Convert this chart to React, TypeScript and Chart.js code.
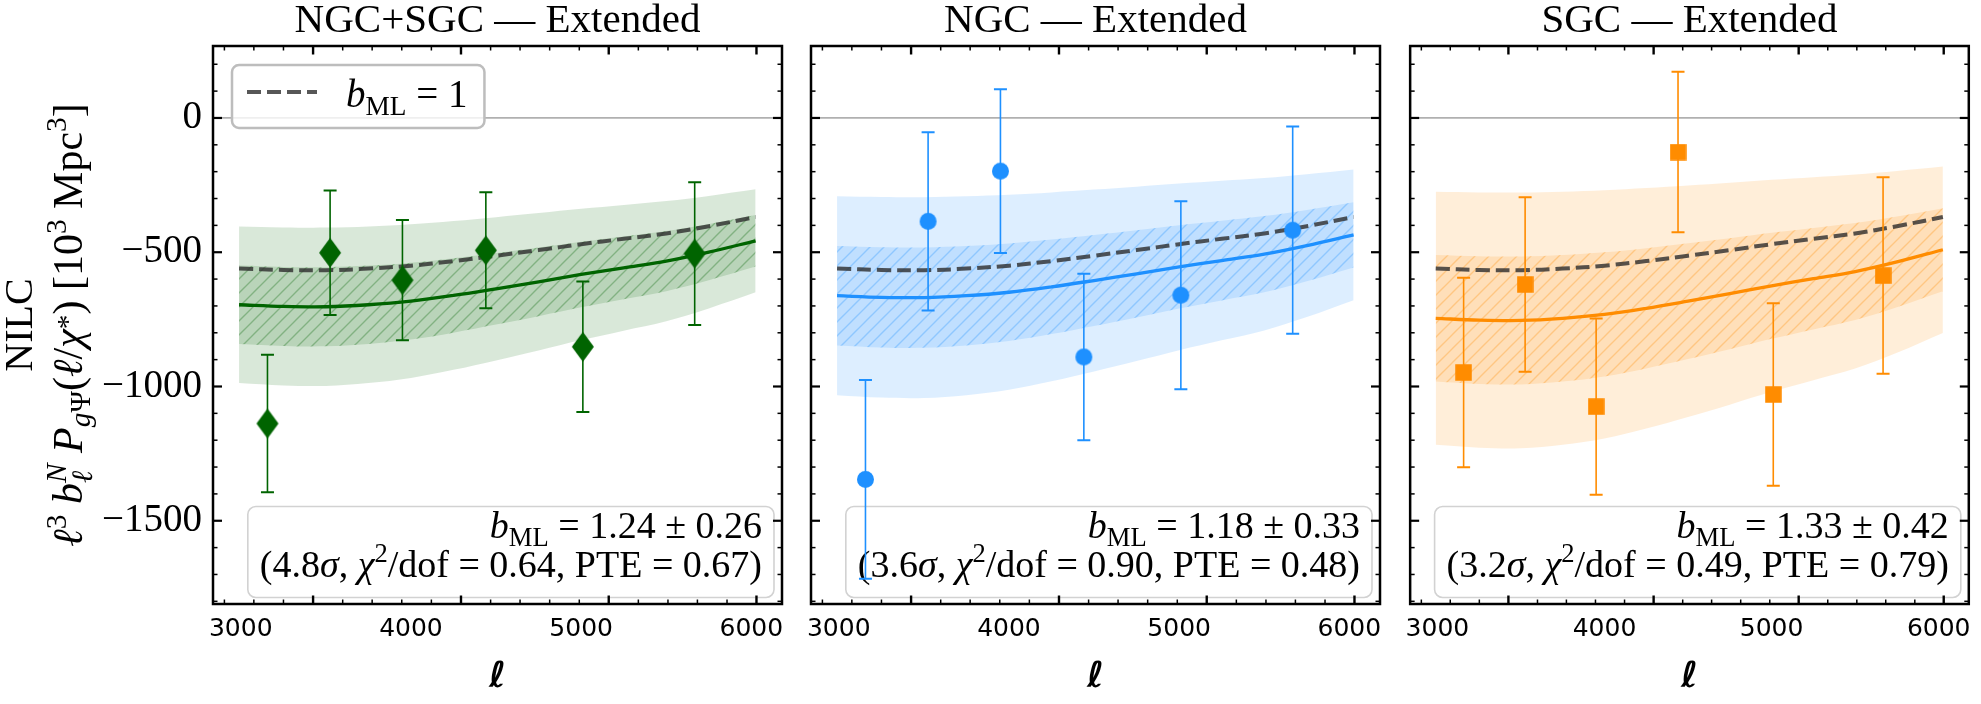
import React, { useEffect, useRef } from 'react';
import { Chart, registerables } from 'chart.js';

Chart.register(...registerables);

// ---------------- data ----------------
const ellModel = [2990, 3250, 3500, 3750, 4000, 4250, 4500, 4750, 5000, 5250, 5500, 5750, 6025];
const templateB1 = [-561, -566, -567, -561, -550, -533, -513, -492, -470, -450, -430, -403, -369];
const ellBins = [3157, 3525, 3950, 4440, 5010, 5667];

const combinedVals = [-1138, -502, -604, -493, -852, -505];
const combinedErrs = [256, 232, 224, 216, 243, 266];
const ngcVals = [-1346, -385, -198, -890, -660, -418];
const ngcErrs = [370, 332, 305, 310, 350, 386];
const sgcVals = [-948, -620, -1075, -127, -1030, -587];
const sgcErrs = [353, 325, 328, 299, 340, 366];

const panelTitles = ['NGC+SGC \u2014 Extended', 'NGC \u2014 Extended', 'SGC \u2014 Extended'];
const bFit = [1.24, 1.18, 1.33];
const bFitErr = [0.26, 0.33, 0.42];
const detSig = ['4.8', '3.6', '3.2'];
const chi2Dof = ['0.64', '0.90', '0.49'];
const pteVals = ['0.67', '0.48', '0.79'];

const xTickValues = [3000, 4000, 5000, 6000];
const yTickValues = [0, -500, -1000, -1500];
const xMajorMarks = [3425, 4294, 5162, 6030];
const xMinorMarks = [2904, 3077, 3251, 3599, 3772, 3946, 4120, 4468, 4641, 4815, 4989, 5336, 5510, 5683, 5857];
const X_MIN = 2837;
const X_MAX = 6180;
const Y_MIN = -1810;
const Y_MAX = 268;

// ---------------- styling ----------------
const SERIF = '"Liberation Serif", "Times New Roman", serif';
const SANS = '"DejaVu Sans", sans-serif';
const panelRGB: number[][] = [
  [0, 100, 0],
  [30, 144, 255],
  [255, 140, 0],
];
const markerKinds = ['diamond', 'circle', 'square'];
const panelBoxes = [
  { left: 0, width: 795, padL: 0, padR: 13 },
  { left: 795, width: 600, padL: 16, padR: 15 },
  { left: 1395, width: 586, padL: 14, padR: 4 },
];
const DASH_COLOR = 'rgba(45,45,45,0.8)';

type Seg = { t: string; it?: boolean; sc?: number; dy?: number; up?: Seg; dn?: Seg };

function fontOf(base: number, s: Seg) {
  return `${s.it ? 'italic ' : ''}${(base * (s.sc ?? 1)).toFixed(2)}px ${SERIF}`;
}
function segWidth(ctx: CanvasRenderingContext2D, base: number, s: Seg): number {
  if (s.up || s.dn) {
    let w = 0;
    for (const q of [s.up, s.dn]) {
      if (q) {
        ctx.font = fontOf(base, q);
        w = Math.max(w, ctx.measureText(q.t).width);
      }
    }
    return w;
  }
  ctx.font = fontOf(base, s);
  return ctx.measureText(s.t).width;
}
function richWidth(ctx: CanvasRenderingContext2D, segs: Seg[], base: number) {
  return segs.reduce((acc, s) => acc + segWidth(ctx, base, s), 0);
}
function drawRich(
  ctx: CanvasRenderingContext2D,
  segs: Seg[],
  x: number,
  y: number,
  base: number,
  align: 'left' | 'right' | 'center',
  color = '#000'
) {
  const total = richWidth(ctx, segs, base);
  let cx = align === 'left' ? x : align === 'right' ? x - total : x - total / 2;
  ctx.fillStyle = color;
  ctx.textBaseline = 'alphabetic';
  ctx.textAlign = 'left';
  for (const s of segs) {
    const w = segWidth(ctx, base, s);
    const parts = s.up || s.dn ? ([s.up, s.dn].filter(Boolean) as Seg[]) : [s];
    for (const q of parts) {
      ctx.font = fontOf(base, q);
      ctx.fillText(q.t, cx, y + (q.dy ?? 0) * base);
    }
    cx += w;
  }
  return total;
}

function roundRect(ctx: CanvasRenderingContext2D, x: number, y: number, w: number, h: number, r: number) {
  ctx.beginPath();
  ctx.moveTo(x + r, y);
  ctx.lineTo(x + w - r, y);
  ctx.arcTo(x + w, y, x + w, y + r, r);
  ctx.lineTo(x + w, y + h - r);
  ctx.arcTo(x + w, y + h, x + w - r, y + h, r);
  ctx.lineTo(x + r, y + h);
  ctx.arcTo(x, y + h, x, y + h - r, r);
  ctx.lineTo(x, y + r);
  ctx.arcTo(x, y, x + r, y, r);
  ctx.closePath();
}

function makeHatch(fill: string, line: string) {
  const c = document.createElement('canvas');
  const n = 14;
  c.width = n;
  c.height = n;
  const g = c.getContext('2d')!;
  g.fillStyle = fill;
  g.fillRect(0, 0, n, n);
  g.strokeStyle = line;
  g.lineWidth = 1.4;
  g.beginPath();
  g.moveTo(-1, n + 1);
  g.lineTo(n + 1, -1);
  g.moveTo(-1, 1);
  g.lineTo(1, -1);
  g.moveTo(n - 1, n + 1);
  g.lineTo(n + 1, n - 1);
  g.stroke();
  return g.createPattern(c, 'repeat')!;
}

function makeMarker(kind: string, color: string) {
  const c = document.createElement('canvas');
  const g = c.getContext('2d')!;
  if (kind === 'diamond') {
    c.width = 24;
    c.height = 32;
    g.fillStyle = color;
    g.beginPath();
    g.moveTo(12, 1);
    g.lineTo(23, 16);
    g.lineTo(12, 31);
    g.lineTo(1, 16);
    g.closePath();
    g.fill();
  } else if (kind === 'circle') {
    c.width = 19;
    c.height = 19;
    g.fillStyle = color;
    g.beginPath();
    g.arc(9.5, 9.5, 8.5, 0, Math.PI * 2);
    g.fill();
  } else {
    c.width = 17;
    c.height = 17;
    g.fillStyle = color;
    g.fillRect(0.25, 0.25, 16.5, 16.5);
  }
  return c;
}

function buildConfig(idx: number): any {
  const [r, g, b] = panelRGB[idx];
  const col = `rgb(${r},${g},${b})`;
  const rgba = (a: number) => `rgba(${r},${g},${b},${a})`;
  const bb = bFit[idx];
  const sg = bFitErr[idx];
  const vals = [combinedVals, ngcVals, sgcVals][idx];
  const errs = [combinedErrs, ngcErrs, sgcErrs][idx];
  const curve = (f: number) => ellModel.map((l, i) => ({ x: l, y: templateB1[i] * f }));
  const hatch = makeHatch(rgba(0.15), rgba(0.3));
  const marker = makeMarker(markerKinds[idx], col);
  const box = panelBoxes[idx];
  const T = 0.35;

  const bandCommon = { borderColor: 'transparent', borderWidth: 0, pointRadius: 0, tension: T };

  const datasets: any[] = [
    { label: 'outerHi', data: curve(bb - 2 * sg), fill: '+1', backgroundColor: rgba(0.15), order: 10, ...bandCommon },
    { label: 'outerLo', data: curve(bb + 2 * sg), fill: false, order: 10, ...bandCommon },
    { label: 'innerHi', data: curve(bb - sg), fill: '+1', backgroundColor: hatch, order: 9, ...bandCommon },
    { label: 'innerLo', data: curve(bb + sg), fill: false, order: 9, ...bandCommon },
    { label: 'model', data: curve(bb), borderColor: col, borderWidth: 3.3, pointRadius: 0, tension: T, fill: false, order: 4 },
    {
      label: 'b1',
      data: curve(1),
      borderColor: DASH_COLOR,
      borderDash: [14, 6],
      borderWidth: 4,
      pointRadius: 0,
      tension: T,
      fill: false,
      order: 3,
    },
    {
      label: 'data',
      data: ellBins.map((l, i) => ({ x: l, y: vals[i] })),
      showLine: false,
      pointStyle: marker,
      pointRadius: 10,
      borderWidth: 0,
      backgroundColor: col,
      order: 1,
    },
  ];

  const decor = {
    id: 'decor' + idx,
    beforeDatasetsDraw(chart: any) {
      const { ctx, chartArea: a, scales } = chart;
      const ys = scales.y;
      ctx.save();
      // zero line
      const y0 = ys.getPixelForValue(0);
      ctx.strokeStyle = '#b0b0b0';
      ctx.lineWidth = 1.8;
      ctx.beginPath();
      ctx.moveTo(a.left, y0);
      ctx.lineTo(a.right, y0);
      ctx.stroke();

      // stats box
      const base = 38;
      const line1: Seg[] = [
        { t: 'b', it: true },
        { t: 'ML', sc: 0.7, dy: 0.22 },
        { t: ` = ${bFit[idx].toFixed(2)} \u00b1 ${bFitErr[idx].toFixed(2)}` },
      ];
      const line2: Seg[] = [
        { t: `(${detSig[idx]}` },
        { t: '\u03c3', it: true },
        { t: ', ' },
        { t: '\u03c7', it: true },
        { t: '2', sc: 0.7, dy: -0.38 },
        { t: `/dof = ${chi2Dof[idx]}, PTE = ${pteVals[idx]})` },
      ];
      const w = Math.max(richWidth(ctx, line1, base), richWidth(ctx, line2, base));
      const bx1 = a.right - 8;
      const by1 = a.bottom - 6.5;
      const bw = w + 24;
      const bh = 91;
      roundRect(ctx, bx1 - bw, by1 - bh, bw, bh, 8);
      ctx.fillStyle = 'rgba(255,255,255,0.8)';
      ctx.fill();
      ctx.strokeStyle = '#d2d2d2';
      ctx.lineWidth = 1.6;
      ctx.stroke();
      drawRich(ctx, line1, bx1 - 12, by1 - bh + 31, base, 'right');
      drawRich(ctx, line2, bx1 - 12, by1 - bh + 70, base, 'right');
      ctx.restore();
    },
    beforeDatasetDraw(chart: any, args: any) {
      if (chart.data.datasets[args.index].label !== 'data') return;
      const { ctx, scales } = chart;
      const xs = scales.x;
      const ys = scales.y;
      ctx.save();
      ctx.strokeStyle = col;
      for (let i = 0; i < ellBins.length; i++) {
        const px = xs.getPixelForValue(ellBins[i]);
        const pt = ys.getPixelForValue(vals[i] + errs[i]);
        const pb = ys.getPixelForValue(vals[i] - errs[i]);
        ctx.lineWidth = 1.6;
        ctx.beginPath();
        ctx.moveTo(px, pt);
        ctx.lineTo(px, pb);
        ctx.stroke();
        ctx.lineWidth = 2;
        ctx.beginPath();
        ctx.moveTo(px - 6.5, pt);
        ctx.lineTo(px + 6.5, pt);
        ctx.moveTo(px - 6.5, pb);
        ctx.lineTo(px + 6.5, pb);
        ctx.stroke();
      }
      ctx.restore();
    },
    afterDraw(chart: any) {
      const { ctx, chartArea: a, scales } = chart;
      const xs = scales.x;
      const ys = scales.y;
      ctx.save();
      ctx.strokeStyle = '#000';
      const seg = (x1: number, y1: number, x2: number, y2: number) => {
        ctx.beginPath();
        ctx.moveTo(x1, y1);
        ctx.lineTo(x2, y2);
        ctx.stroke();
      };
      // inward y ticks
      for (let v = Math.ceil(Y_MIN / 100) * 100; v <= Y_MAX; v += 100) {
        const py = ys.getPixelForValue(v);
        const major = v % 500 === 0;
        const L = major ? 9 : 4.5;
        ctx.lineWidth = major ? 2.2 : 1.5;
        seg(a.left, py, a.left + L, py);
        seg(a.right, py, a.right - L, py);
      }
      // inward x ticks
      const xt = (vals2: number[], L: number, lw: number) => {
        ctx.lineWidth = lw;
        for (const v of vals2) {
          if (v <= X_MIN || v >= X_MAX) continue;
          const px = xs.getPixelForValue(v);
          seg(px, a.top, px, a.top + L);
          seg(px, a.bottom, px, a.bottom - L);
        }
      };
      xt(xMinorMarks, 4.5, 1.5);
      xt(xMajorMarks, 8.5, 2.4);
      // spines
      ctx.lineWidth = 2.5;
      ctx.strokeRect(a.left, a.top, a.right - a.left, a.bottom - a.top);

      // legend (first panel)
      if (idx === 0) {
        const lx = a.left + 19;
        const ly = a.top + 19;
        const lseg: Seg[] = [{ t: 'b', it: true }, { t: 'ML', sc: 0.7, dy: 0.22 }, { t: ' = 1' }];
        const tw = richWidth(ctx, lseg, 39);
        const lw = 114 + tw + 17;
        roundRect(ctx, lx, ly, lw, 63, 7);
        ctx.fillStyle = 'rgba(255,255,255,0.8)';
        ctx.fill();
        ctx.strokeStyle = '#bdbdbd';
        ctx.lineWidth = 2.5;
        ctx.stroke();
        ctx.strokeStyle = DASH_COLOR;
        ctx.lineWidth = 4;
        ctx.setLineDash([14, 6]);
        seg(lx + 15, ly + 27, lx + 85, ly + 27);
        ctx.setLineDash([]);
        drawRich(ctx, lseg, lx + 114, ly + 41.5, 39, 'left');
      }

      // title
      ctx.fillStyle = '#000';
      ctx.font = `41px ${SERIF}`;
      ctx.textAlign = 'center';
      ctx.textBaseline = 'alphabetic';
      const cxm = (a.left + a.right) / 2;
      ctx.fillText(panelTitles[idx], cxm, 32);

      // x label
      ctx.font = `italic bold 36px ${SANS}`;
      ctx.fillText('\u2113', cxm, 687);

      // y label (first panel)
      if (idx === 0) {
        const cy = (a.top + a.bottom) / 2;
        ctx.save();
        ctx.translate(31.7, cy);
        ctx.rotate(-Math.PI / 2);
        drawRich(ctx, [{ t: 'NILC' }], 0, 0, 40, 'center');
        ctx.restore();
        const yl: Seg[] = [
          { t: '\u2113', it: true },
          { t: '3', sc: 0.7, dy: -0.38 },
          { t: ' ' },
          { t: 'b', it: true },
          { t: '', up: { t: 'N', it: true, sc: 0.7, dy: -0.38 }, dn: { t: '\u2113', it: true, sc: 0.7, dy: 0.25 } },
          { t: ' ' },
          { t: 'P', it: true },
          { t: 'g', it: true, sc: 0.7, dy: 0.2 },
          { t: '\u03a8', sc: 0.7, dy: 0.2 },
          { t: '(' },
          { t: '\u2113', it: true },
          { t: '/' },
          { t: '\u03c7', it: true },
          { t: '*', sc: 0.7, dy: -0.12 },
          { t: ')' },
          { t: ' [10' },
          { t: '3', sc: 0.7, dy: -0.38 },
          { t: ' Mpc' },
          { t: '3', sc: 0.7, dy: -0.38 },
          { t: ']' },
        ];
        ctx.save();
        ctx.translate(81.7, cy);
        ctx.rotate(-Math.PI / 2);
        drawRich(ctx, yl, 0, 0, 42, 'center');
        ctx.restore();
      }
      ctx.restore();
    },
  };

  return {
    type: 'line',
    data: { datasets },
    options: {
      animation: false,
      responsive: false,
      maintainAspectRatio: false,
      events: [],
      layout: { padding: { left: box.padL, right: box.padR, top: 46, bottom: 0 } },
      plugins: {
        legend: { display: false },
        tooltip: { enabled: false },
        title: { display: false },
      },
      scales: {
        x: {
          type: 'linear',
          min: X_MIN,
          max: X_MAX,
          afterBuildTicks: (s: any) => {
            s.ticks = xTickValues.map((v) => ({ value: v }));
          },
          afterFit: (s: any) => {
            s.height = 100;
          },
          grid: { display: false, drawTicks: false },
          border: { display: false },
          ticks: {
            autoSkip: false,
            maxRotation: 0,
            padding: 10,
            color: '#000',
            font: { family: 'DejaVu Sans', size: 25 },
            callback: (v: any) => String(v),
          },
        },
        y: {
          type: 'linear',
          min: Y_MIN,
          max: Y_MAX,
          display: idx === 0,
          afterBuildTicks: (s: any) => {
            s.ticks = yTickValues.map((v) => ({ value: v }));
          },
          afterFit: (s: any) => {
            if (idx === 0) s.width = 213;
          },
          grid: { display: false, drawTicks: false },
          border: { display: false },
          ticks: {
            padding: 11,
            color: '#000',
            font: { family: 'Liberation Serif', size: 39 },
            callback: (v: any) => (v < 0 ? '\u2212' + Math.abs(v) : String(v)),
          },
        },
      },
    },
    plugins: [decor],
  };
}

function Panel({ idx }: { idx: number }) {
  const ref = useRef<HTMLCanvasElement>(null);
  useEffect(() => {
    const cv = ref.current!;
    const chart = new Chart(cv, buildConfig(idx));
    return () => chart.destroy();
  }, [idx]);
  const box = panelBoxes[idx];
  return (
    <canvas
      ref={ref}
      width={box.width}
      height={704}
      style={{ position: 'absolute', left: box.left, top: 0, width: box.width, height: 704 }}
    />
  );
}

export default function App() {
  return (
    <div style={{ position: 'absolute', left: 0, top: 0, width: 1981, height: 704, background: '#fff', overflow: 'hidden' }}>
      <Panel idx={0} />
      <Panel idx={1} />
      <Panel idx={2} />
    </div>
  );
}
